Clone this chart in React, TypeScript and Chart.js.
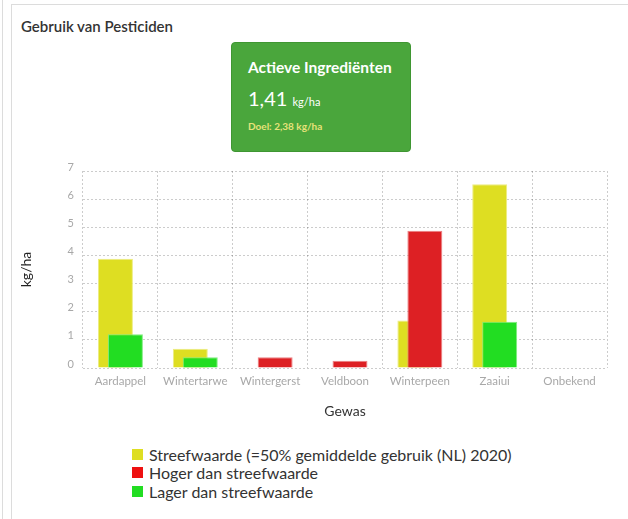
import React, { useEffect, useRef } from "react";
import { Chart, registerables } from "chart.js";

Chart.register(...registerables);

const categories = ["Aardappel", "Wintertarwe", "Wintergerst", "Veldboon", "Winterpeen", "Zaaiui", "Onbekend"];
const streefwaarde: (number | null)[] = [3.88, 0.68, null, null, 1.69, 6.53, null];
const gebruik: (number | null)[] = [1.2, 0.38, 0.38, 0.26, 4.88, 1.64, null];
const legendLabels = [
  "Streefwaarde (=50% gemiddelde gebruik (NL) 2020)",
  "Hoger dan streefwaarde",
  "Lager dan streefwaarde",
];
const yMin = 0;
const yMax = 7;
const totaalWaarde = "1,41";
const doelWaarde = "2,38";

const YELLOW = "#dede22";
const RED = "#dd2024";
const GREEN = "#22dd22";
const YELLOW_EDGE = "#ecec80";
const RED_EDGE = "#ec8083";
const GREEN_EDGE = "#80ec80";
const LEGEND_COLORS = [YELLOW, "#ee1111", GREEN];
const GRID = "rgba(0,0,0,0.2)";
const FONT = "Lato";

// draw the target (yellow) bars first so the actual bars lie on top of them
const targetBehind = {
  id: "targetBehind",
  beforeDatasetsDraw(chart: any) {
    const meta = chart.getDatasetMeta(0);
    if (meta && meta.controller) meta.controller.draw();
  },
  beforeDatasetDraw(_chart: any, args: any) {
    if (args.index === 0) return false;
  },
};

export default function App() {
  const ref = useRef<HTMLCanvasElement | null>(null);

  useEffect(() => {
    if (!ref.current) return;
    const over = gebruik.map((v, i) => (v ?? 0) > (streefwaarde[i] ?? 0));
    const barOpts = { categoryPercentage: 0.267, barPercentage: 3.5, borderWidth: 1 };
    const chart = new Chart(ref.current, {
      type: "bar",
      data: {
        labels: categories,
        datasets: [
          { label: legendLabels[0], data: streefwaarde, backgroundColor: YELLOW, borderColor: YELLOW_EDGE, ...barOpts },
          {
            label: "gebruik",
            data: gebruik,
            backgroundColor: over.map((o) => (o ? RED : GREEN)),
            borderColor: over.map((o) => (o ? RED_EDGE : GREEN_EDGE)),
            ...barOpts,
          },
        ],
      },
      options: {
        responsive: false,
        animation: false,
        layout: { padding: { top: 21, right: 21, left: 0, bottom: 0 } },
        plugins: { legend: { display: false }, tooltip: { enabled: false } },
        scales: {
          x: {
            type: "category",
            offset: true,
            grid: { color: GRID, offset: true, drawTicks: false },
            border: { display: false, dash: [2, 2] },
            ticks: { color: "#a8a8a8", font: { family: FONT, size: 11.5 }, padding: 6, maxRotation: 0, autoSkip: false },
            title: { display: true, text: "Gewas", color: "#333", font: { family: FONT, size: 14 }, padding: { top: 4, bottom: 10 } },
            afterFit: (s: any) => { s.height = 62; },
          },
          y: {
            min: yMin,
            max: yMax,
            grid: { color: GRID, drawTicks: false },
            border: { display: false, dash: [2, 2] },
            ticks: { stepSize: 1, color: "#a8a8a8", font: { family: FONT, size: 11 }, padding: 9, labelOffset: -4 },
            title: { display: true, text: "kg/ha", color: "#222", font: { family: FONT, size: 14 }, padding: { top: 18, bottom: 0 } },
            afterFit: (s: any) => { s.width = 83; },
          },
        },
      },
      plugins: [targetBehind],
    } as any);
    return () => chart.destroy();
  }, []);

  const line = (style: React.CSSProperties) => <div style={{ position: "absolute", background: "#dcdcdc", ...style }} />;

  return (
    <div style={{ position: "absolute", left: 0, top: 0, width: 628, height: 519, background: "#fff", fontFamily: FONT, overflow: "hidden" }}>
      {line({ left: 2, top: 0, width: 1, height: 519 })}
      {line({ left: 11, top: 4, width: 1, height: 515 })}
      {line({ left: 11, top: 4, width: 617, height: 1 })}
      <div style={{ position: "absolute", left: 21, top: 17, fontSize: 15, lineHeight: "18px", fontWeight: 600, color: "#333" }}>
        Gebruik van Pesticiden
      </div>
      <div style={{ position: "absolute", left: 231, top: 42, width: 178, height: 108, background: "#4aa63c", border: "1px solid #3f9632", borderRadius: 4, color: "#fff" }}>
        <div style={{ position: "absolute", left: 16, top: 15, fontSize: 15.5, lineHeight: "18px", fontWeight: 700, whiteSpace: "nowrap" }}>
          Actieve Ingrediënten
        </div>
        <div style={{ position: "absolute", left: 16, top: 43, fontSize: 20, lineHeight: "24px", whiteSpace: "nowrap" }}>
          {totaalWaarde} <span style={{ fontSize: 11 }}>kg/ha</span>
        </div>
        <div style={{ position: "absolute", left: 16, top: 77, fontSize: 10, lineHeight: "12px", fontWeight: 700, color: "#e6e27a", whiteSpace: "nowrap" }}>
          Doel: {doelWaarde} kg/ha
        </div>
      </div>
      <canvas ref={ref} width={628} height={280} style={{ position: "absolute", left: 0, top: 150, width: 628, height: 280 }} />
      <div style={{ position: "absolute", left: 132, top: 445 }}>
        {legendLabels.map((t, i) => (
          <div key={t} style={{ display: "flex", alignItems: "center", height: 18.5, fontSize: 16, color: "#333", whiteSpace: "nowrap" }}>
            <span style={{ display: "inline-block", width: 11, height: 11, background: LEGEND_COLORS[i], marginRight: 6 }} />
            {t}
          </div>
        ))}
      </div>
    </div>
  );
}
